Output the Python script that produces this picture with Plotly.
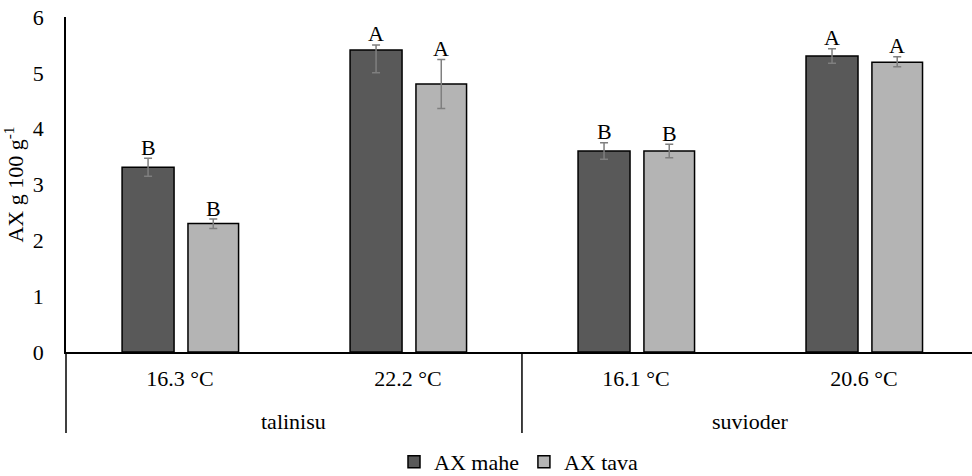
import plotly.graph_objects as go

# ---- data ----
crops = ["talinisu", "talinisu", "suvioder", "suvioder"]
temps = ["16.3 °C", "22.2 °C", "16.1 °C", "20.6 °C"]
series_names = ["AX mahe", "AX tava"]
mahe = [3.31, 5.41, 3.60, 5.30]
mahe_err_plus = [0.16, 0.09, 0.15, 0.13]
mahe_err_minus = [0.16, 0.41, 0.15, 0.13]
tava = [2.30, 4.80, 3.60, 5.19]
tava_err_plus = [0.08, 0.44, 0.12, 0.10]
tava_err_minus = [0.09, 0.44, 0.12, 0.08]
mahe_letters = ["B", "A", "B", "A"]
tava_letters = ["B", "A", "B", "A"]
y_ticks = [0, 1, 2, 3, 4, 5, 6]

FONT = "Liberation Serif"
FS = 22
DARK = "#595959"
LIGHT = "#b4b4b4"
ERR = "#7f7f7f"
X_RANGE = [-0.5, 3.474]

fig = go.Figure()
specs = [
    (series_names[0], mahe, mahe_err_plus, mahe_err_minus, DARK, -0.254, 0.228),
    (series_names[1], tava, tava_err_plus, tava_err_minus, LIGHT, 0.035, 0.222),
]
for name, vals, ep, em, col, off, wd in specs:
    fig.add_trace(go.Bar(
        name=name, x=temps, y=vals,
        offset=off, width=wd,
        marker=dict(color=col, line=dict(color="black", width=1.5)),
        error_y=dict(type="data", array=ep, arrayminus=em, symmetric=False,
                     color=ERR, thickness=1.5, width=4),
    ))

# letters above error bars
for i in range(len(temps)):
    for vals, ep, letters, off, wd in [
        (mahe, mahe_err_plus, mahe_letters, -0.254, 0.228),
        (tava, tava_err_plus, tava_letters, 0.035, 0.222),
    ]:
        fig.add_annotation(
            x=i + off + wd / 2, y=vals[i] + ep[i], xref="x", yref="y",
            text=letters[i], showarrow=False, yanchor="middle", yshift=11,
            font=dict(family=FONT, size=FS, color="black"),
        )

# second-level (crop) labels and group dividers, derived from the crops list
groups = []
for i, c in enumerate(crops):
    if not groups or groups[-1][0] != c:
        groups.append([c, i, i])
    else:
        groups[-1][2] = i
span = X_RANGE[1] - X_RANGE[0]
for name, i0, i1 in groups:
    fig.add_annotation(
        x=(i0 + i1) / 2, y=-0.206, xref="x", yref="paper",
        text=name, showarrow=False, yanchor="middle",
        font=dict(family=FONT, size=FS, color="black"),
    )
    xp = (i0 - 0.5 - X_RANGE[0]) / span  # boundary before the group, in paper units
    fig.add_shape(
        type="line", xref="paper", yref="paper",
        x0=xp, x1=xp, y0=0, y1=-0.242,
        line=dict(color="black", width=1.5),
    )

fig.update_layout(
    width=972, height=476,
    margin=dict(l=66, r=0, t=17, b=124, autoexpand=False),
    paper_bgcolor="white", plot_bgcolor="white",
    font=dict(family=FONT, size=FS, color="black"),
    showlegend=True,
    legend=dict(orientation="h", x=0.5, xanchor="center", y=-0.328, yanchor="middle",
                font=dict(family=FONT, size=FS, color="black"),
                itemwidth=30, tracegroupgap=0),
)
fig.update_xaxes(
    type="category",
    range=X_RANGE,
    automargin=False,
    showline=True, linecolor="black", linewidth=1.5,
    showgrid=False, ticks="",
    ticklabelstandoff=6,
    tickfont=dict(family=FONT, size=FS, color="black"),
)
fig.update_yaxes(
    range=[0, 6], tickvals=y_ticks,
    automargin=False,
    showline=True, linecolor="black", linewidth=1.5,
    showgrid=False, zeroline=False, ticks="",
    ticklabelstandoff=16,
    tickfont=dict(family=FONT, size=FS, color="black"),
    title=dict(text="AX g 100 g<sup>-1</sup>", standoff=6,
               font=dict(family=FONT, size=FS, color="black")),
)

fig.write_html("out.html")
